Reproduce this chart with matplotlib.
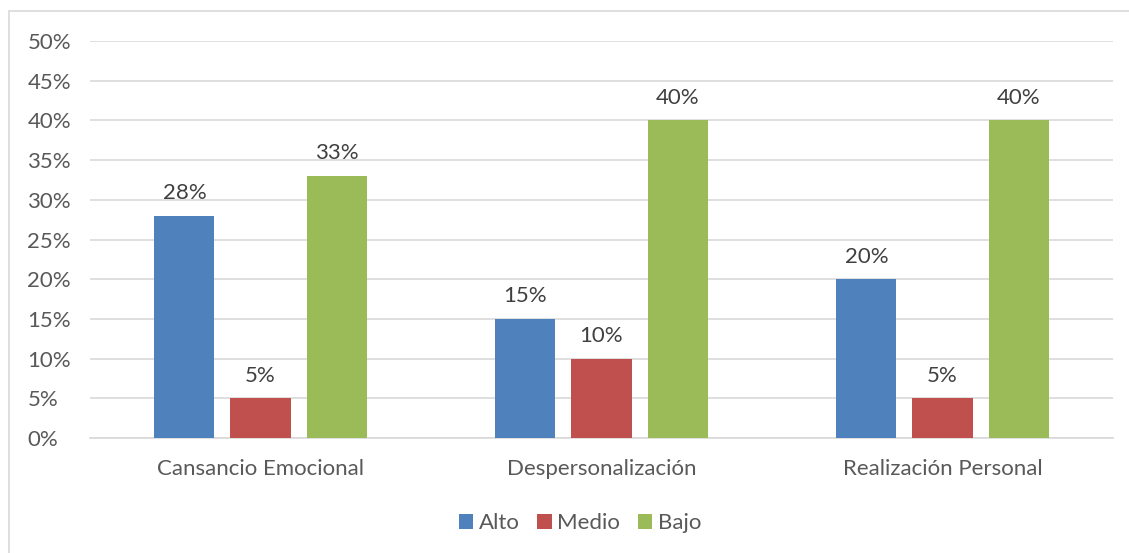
import matplotlib.pyplot as plt
from matplotlib.patches import Rectangle
import numpy as np

plt.rcParams['font.family'] = ['Lato', 'DejaVu Sans']

categorias = ['Cansancio Emocional', 'Despersonalización', 'Realización Personal']
alto = [28, 15, 20]
medio = [5, 10, 5]
bajo = [33, 40, 40]
series = [('Alto', alto, '#4F81BD'), ('Medio', medio, '#C0504D'), ('Bajo', bajo, '#9BBB59')]

gris = '#595959'
fig = plt.figure(figsize=(11.29, 5.53), dpi=100)
fig.patches.append(Rectangle((9/1129, -0.1), 1.2, 1 - 11/553 + 0.1, transform=fig.transFigure,
                             fill=False, edgecolor='#d9d9d9', linewidth=1.2))
ax = fig.add_axes([90/1129, 1 - 438/553, 1023/1129, (438 - 41)/553])

x = np.arange(len(categorias))
ancho = 0.176
paso = 0.223
for i, (nombre, vals, color) in enumerate(series):
    pos = x + (i - 1) * paso
    ax.bar(pos, vals, width=ancho, color=color, label=nombre, zorder=3)
    for p, v in zip(pos, vals):
        ax.annotate(f'{v}%', (p, v), xytext=(0, 9), textcoords='offset points',
                    ha='center', va='bottom', fontsize=16, color='#404040')

ax.set_xlim(-0.5, 2.5)
ax.set_ylim(0, 50)
ax.set_yticks(range(0, 51, 5))
ax.set_yticklabels([f'{t}%' for t in range(0, 51, 5)])
ax.set_xticks(x)
ax.set_xticklabels(categorias)
ax.grid(True, axis='y', color='#d9d9d9', linewidth=1.2, zorder=0)
for s in ['top', 'right', 'left']:
    ax.spines[s].set_visible(False)
ax.spines['bottom'].set_color('#d9d9d9')
ax.spines['bottom'].set_linewidth(1.2)
ax.tick_params(axis='both', length=0, labelsize=16, colors=gris)
ax.tick_params(axis='x', pad=15)
for t in ax.get_yticklabels():
    t.set_ha('left')
ax.yaxis.set_tick_params(pad=45)

ax.legend(loc='center', bbox_to_anchor=(0.479, -0.215), ncol=3, frameon=False,
          fontsize=16, handlelength=0.65, handleheight=0.65, handletextpad=0.25,
          columnspacing=0.8, labelcolor=gris)

fig.savefig('out.png', dpi=100)
